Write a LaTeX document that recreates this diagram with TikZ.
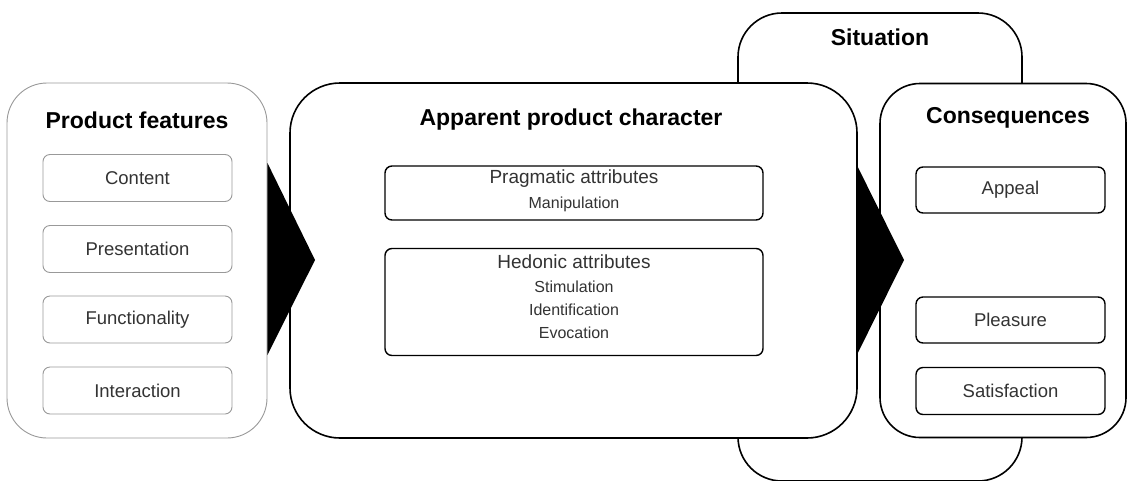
\documentclass[tikz,border=0pt]{standalone}
\usepackage{fontspec}
\setmainfont{Liberation Sans}
\begin{document}
\begin{tikzpicture}[x=1pt,y=-1pt,
  panel/.style={draw=black,line width=1.6pt,fill=white,rounded corners=#1,inner sep=0pt},
  graypanel/.style={draw=black!40,line width=0.9pt,fill=white,rounded corners=40pt,inner sep=0pt},
  graybox/.style={draw=black!40,line width=0.9pt,fill=white,rounded corners=7pt,minimum width=189pt,minimum height=47pt,inner sep=0pt,text=black!80,font=\fontsize{18.5}{22}\selectfont},
  blackbox/.style={draw=black,line width=1.4pt,fill=white,rounded corners=7pt,inner sep=0pt,text=black!80},
  title/.style={font=\bfseries\fontsize{23}{27}\selectfont,text=black},
  head/.style={inner sep=0pt,text=black!80,font=\fontsize{19}{22}\selectfont},
  subt/.style={inner sep=0pt,text=black!80,font=\fontsize{16}{19}\selectfont}
]
\useasboundingbox (0,0) rectangle (1129,480);
% Situation (behind)
\node[panel=44pt,minimum width=284pt,minimum height=468pt] (sit) at (880,247) {};
\node[title] (sittitle) at (880,37) {Situation};
% Product features
\node[graypanel,minimum width=260pt,minimum height=355pt] (pf) at (137,260.5) {};
\node[title] (pftitle) at (137,120) {Product features};
\node[graybox] (content) at (137.5,178) {Content};
\node[graybox] (presentation) at (137.5,249) {Presentation};
\node[graybox] (functionality) at (137.5,319.5) {Functionality};
\node[graybox] (interaction) at (137.5,390.5) {Interaction};
% Apparent product character
\node[panel=50pt,minimum width=567pt,minimum height=355pt] (apc) at (573.5,260.5) {};
\node[title] (apctitle) at (571,120) {Apparent product character};
\node[blackbox,minimum width=378pt,minimum height=54pt] (prag) at (574,193) {};
\node[head] (pragt) at (574,179) {Pragmatic attributes};
\node[subt] (manip) at (574,204) {Manipulation};
\node[blackbox,minimum width=378pt,minimum height=107pt] (hed) at (574,302) {};
\node[head] (hedt) at (574,262) {Hedonic attributes};
\node[subt] (stim) at (574,287) {Stimulation};
\node[subt] (ident) at (574,310) {Identification};
\node[subt] (evoc) at (574,333) {Evocation};
% Consequences
\node[panel=40pt,minimum width=246pt,minimum height=354pt] (cons) at (1003,260.5) {};
\node[title] (constitle) at (1008,118) {Consequences};
\node[blackbox,minimum width=189pt,minimum height=46pt,font=\fontsize{18.5}{22}\selectfont] (appeal) at (1010.5,190) {Appeal};
\node[blackbox,minimum width=189pt,minimum height=46pt,font=\fontsize{18.5}{22}\selectfont] (pleasure) at (1010.5,320) {Pleasure};
\node[blackbox,minimum width=189pt,minimum height=47pt,font=\fontsize{18.5}{22}\selectfont] (satisfaction) at (1010.5,391) {Satisfaction};
% Arrows
\coordinate (a1top) at (pf.east |- 0,163);
\coordinate (a1bot) at (pf.east |- 0,355);
\coordinate (a1tip) at (315,260);
\fill[black] (a1top) -- (a1tip) -- (a1bot) -- cycle;
\coordinate (a2top) at (apc.east |- 0,167);
\coordinate (a2bot) at (apc.east |- 0,353);
\coordinate (a2tip) at (904,260);
\fill[black] (a2top) -- (a2tip) -- (a2bot) -- cycle;
\end{tikzpicture}
\end{document}
